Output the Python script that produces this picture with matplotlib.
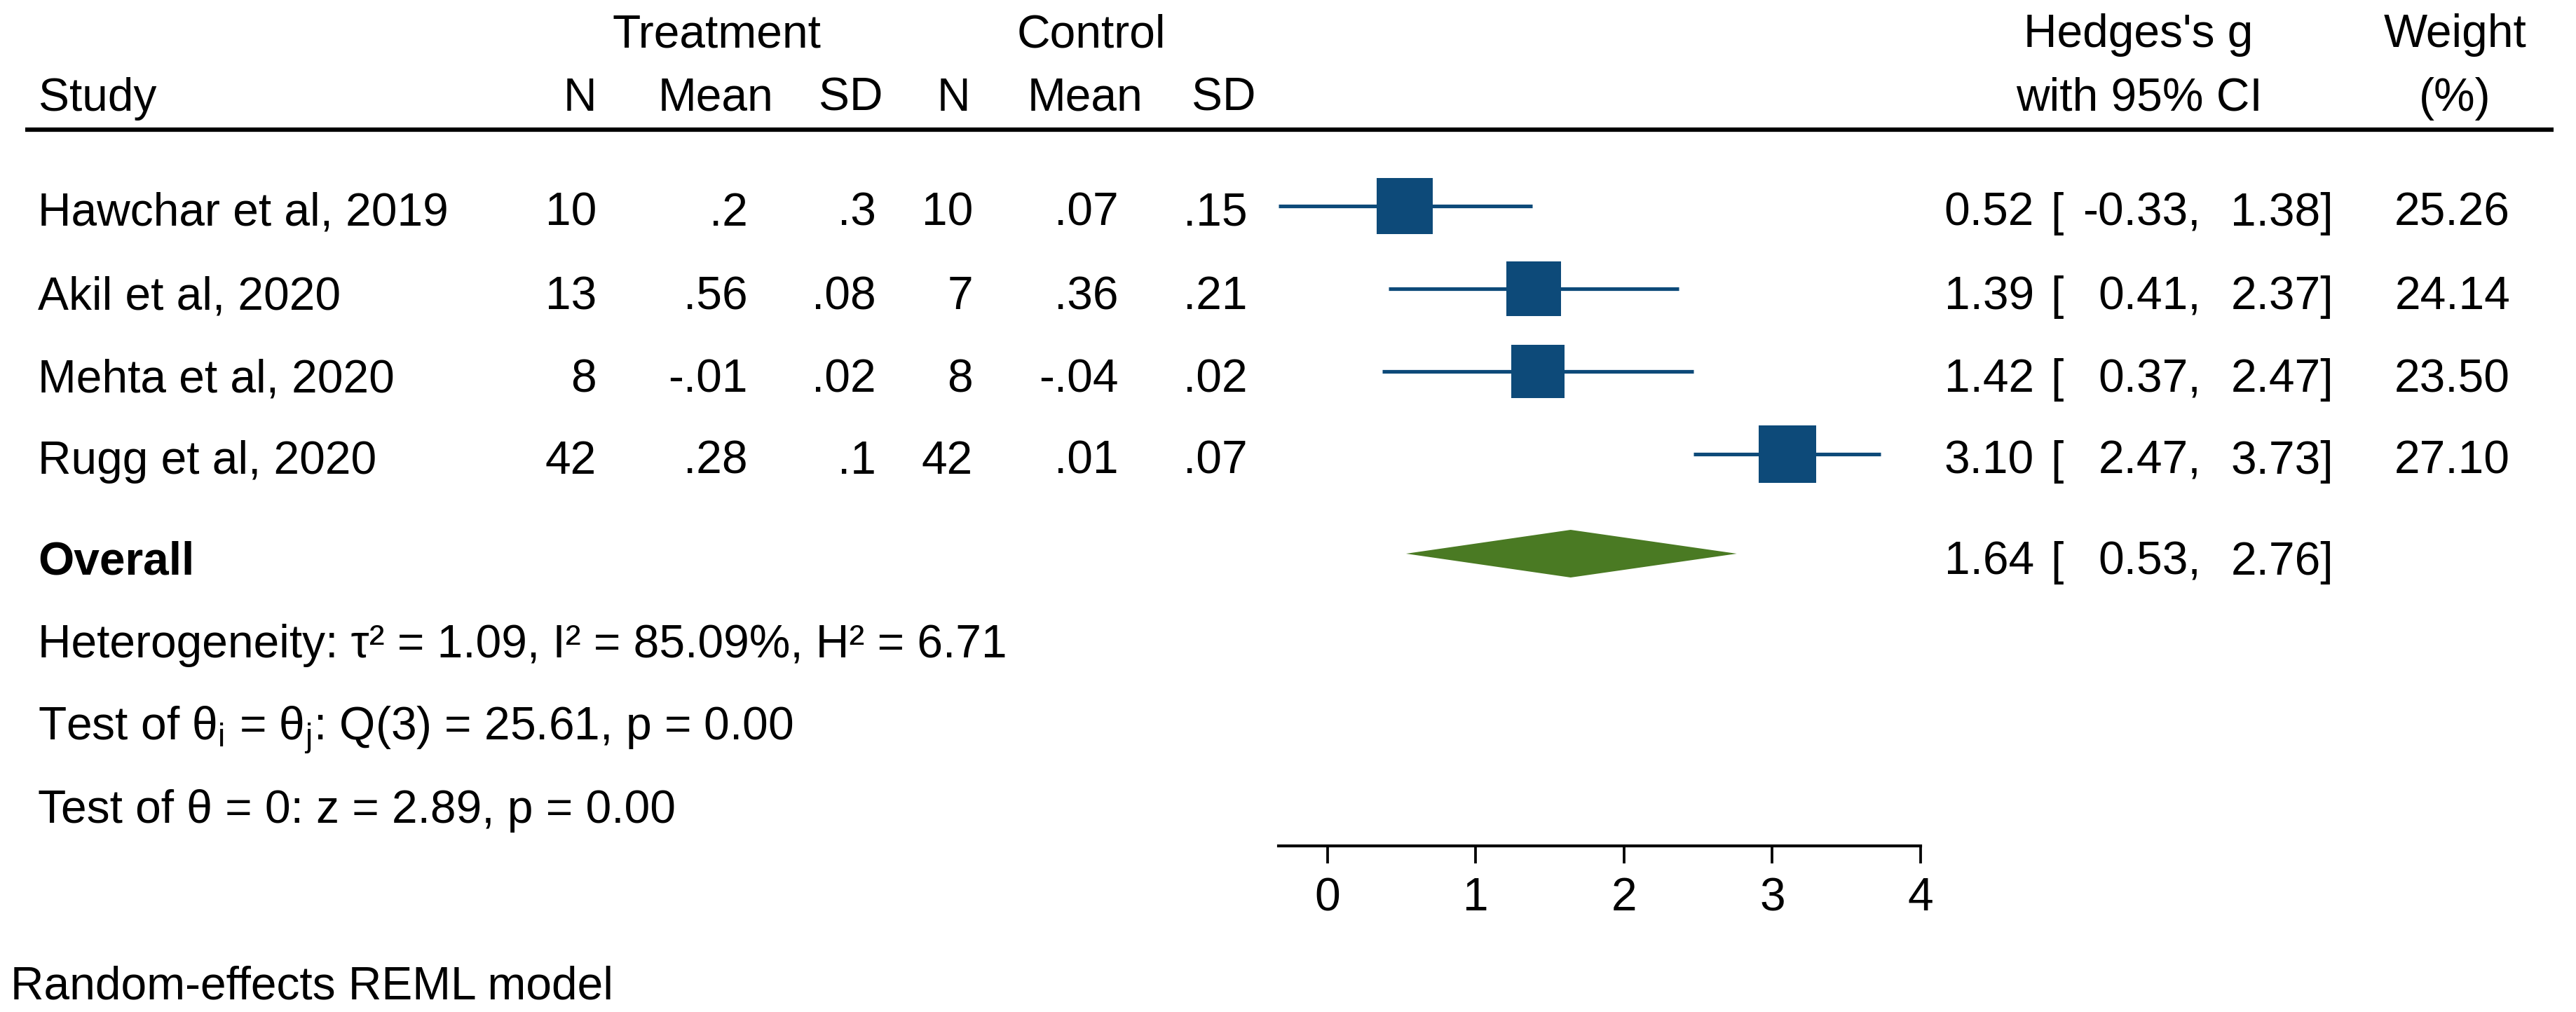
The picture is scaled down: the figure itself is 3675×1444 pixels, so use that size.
import matplotlib
matplotlib.use("Agg")
import matplotlib.pyplot as plt
from matplotlib.lines import Line2D

# ---------------- data ----------------
studies = ["Hawchar et al, 2019", "Akil et al, 2020", "Mehta et al, 2020", "Rugg et al, 2020"]
treat_n = [10, 13, 8, 42]
treat_mean = [0.2, 0.56, -0.01, 0.28]
treat_sd = [0.3, 0.08, 0.02, 0.1]
ctrl_n = [10, 7, 8, 42]
ctrl_mean = [0.07, 0.36, -0.04, 0.01]
ctrl_sd = [0.15, 0.21, 0.02, 0.07]
hedges_g = [0.52, 1.39, 1.42, 3.10]
ci_lo = [-0.33, 0.41, 0.37, 2.47]
ci_hi = [1.38, 2.37, 2.47, 3.73]
weight = [25.26, 24.14, 23.50, 27.10]
overall_g = 1.64
overall_lo = 0.53
overall_hi = 2.76
tau2, I2, H2 = 1.09, 85.09, 6.71
Q_df, Q_stat, Q_p = 3, 25.61, 0.00
z_stat, z_p = 2.89, 0.00
xticks = [0, 1, 2, 3, 4]
model_note = "Random-effects REML model"

# ---------------- style ----------------
plt.rcParams["font.family"] = ["Liberation Sans", "DejaVu Sans"]
plt.rcParams["mathtext.fontset"] = "custom"
plt.rcParams["mathtext.rm"] = "Liberation Sans"
plt.rcParams["mathtext.it"] = "Liberation Sans"
plt.rcParams["mathtext.bf"] = "Liberation Sans:bold"
plt.rcParams["mathtext.default"] = "regular"

FS = 15.8
NAVY = "#0d4a79"
GREEN = "#4a7a23"

W, H = 3675, 1444
DPI = 300
fig = plt.figure(figsize=(W / DPI, H / DPI), dpi=DPI)
fig.patch.set_facecolor("white")


def FX(px):
    return px / W


def FY(py):
    return 1 - py / H


def txt(px, py, s, ha="left", **kw):
    fig.text(FX(px), FY(py), s, ha=ha, va="baseline", fontsize=FS, color="black", **kw)


def sfmt(v):
    s = f"{v:g}"
    if s.startswith("0."):
        s = s[1:]
    elif s.startswith("-0."):
        s = "-" + s[2:]
    return s


# ---------------- header ----------------
txt(1022, 67, "Treatment", ha="center")
txt(1557, 67, "Control", ha="center")
txt(3051, 67, "Hedges's g", ha="center")
txt(3503, 67, "Weight", ha="center")
txt(55, 158, "Study")
for cx, lab in zip([827, 1021, 1214, 1360, 1548, 1746], ["N", "Mean", "SD", "N", "Mean", "SD"]):
    txt(cx, 158, lab, ha="center")
txt(3052, 158, "with 95% CI", ha="center")
txt(3502, 158, "(%)", ha="center")
fig.add_artist(Line2D([FX(36), FX(3643)], [FY(185), FY(185)], lw=1.5, color="black",
                      transform=fig.transFigure, solid_capstyle="butt"))

# ---------------- forest axes ----------------
ROW0, ROWSTEP = 294, 118
ax_left, ax_right, ax_top, ax_bot = 1824, 2740, 230, 1207
ax = fig.add_axes([FX(ax_left), FY(ax_bot), (ax_right - ax_left) / W, (ax_bot - ax_top) / H])
ax.set_xlim(min(ci_lo), max(xticks))
ax.set_ylim((ax_bot - ROW0) / ROWSTEP, (ax_top - ROW0) / ROWSTEP)
ax.patch.set_alpha(0)
for sp in ["left", "right", "top"]:
    ax.spines[sp].set_visible(False)
ax.spines["bottom"].set_linewidth(1.0)
ax.set_yticks([])
ax.set_xticks(xticks)
ax.set_xticklabels([str(t) for t in xticks])
ax.tick_params(axis="x", direction="out", length=6, width=0.9, pad=4.6, labelsize=FS)

rows = list(range(len(studies)))
ax.hlines(rows, ci_lo, ci_hi, color=NAVY, lw=1.25, zorder=2, clip_on=False)
for r, gv, w in zip(rows, hedges_g, weight):
    ax.plot([gv], [r], marker="s", ms=19.0 * (w / weight[0]) ** 0.5, color=NAVY,
            mec=NAVY, mew=0, ls="none", zorder=3, clip_on=False)

r_over = (790 - ROW0) / ROWSTEP
hh = 34 / ROWSTEP
ax.fill([overall_lo, overall_g, overall_hi, overall_g],
        [r_over, r_over - hh, r_over, r_over + hh], color=GREEN, lw=0, zorder=3, clip_on=False)

# ---------------- table rows ----------------
baselines = [322, 441, 559, 676]
for i, yb in enumerate(baselines):
    txt(54, yb, studies[i])
    txt(851, yb, str(treat_n[i]), ha="right")
    txt(1067, yb, sfmt(treat_mean[i]), ha="right")
    txt(1250, yb, sfmt(treat_sd[i]), ha="right")
    txt(1388, yb, str(ctrl_n[i]), ha="right")
    txt(1596, yb, sfmt(ctrl_mean[i]), ha="right")
    txt(1780, yb, sfmt(ctrl_sd[i]), ha="right")
    txt(2902, yb, f"{hedges_g[i]:.2f}", ha="right")
    txt(2925, yb, "[")
    txt(3140, yb, f"{ci_lo[i]:.2f},", ha="right")
    txt(3329, yb, f"{ci_hi[i]:.2f}]", ha="right")
    txt(3581, yb, f"{weight[i]:.2f}", ha="right")

txt(54, 820, "Overall", fontweight="bold")
txt(2902, 820, f"{overall_g:.2f}", ha="right")
txt(2925, 820, "[")
txt(3140, 820, f"{overall_lo:.2f},", ha="right")
txt(3329, 820, f"{overall_hi:.2f}]", ha="right")

txt(54, 938, f"Heterogeneity: τ² = {tau2:.2f}, I² = {I2:.2f}%, H² = {H2:.2f}")
txt(54, 1055, r"Test of $\theta_i$ = $\theta_j$: " + f"Q({Q_df}) = {Q_stat:.2f}, p = {Q_p:.2f}")
txt(54, 1174, f"Test of θ = 0: z = {z_stat:.2f}, p = {z_p:.2f}")
txt(15, 1426, model_note)

fig.savefig("out.png", dpi=DPI, facecolor="white")
